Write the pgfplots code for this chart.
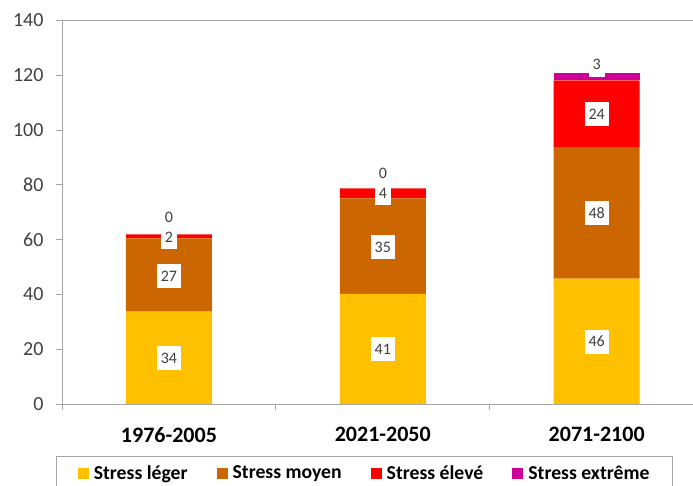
\documentclass[border=0pt]{standalone}
\usepackage{pgfplots}
\pgfplotsset{compat=1.18}
\usepackage{pgfplotstable}
\usepackage{fontspec}
\setmainfont{Carlito}
\definecolor{cLeger}{HTML}{FFC000}
\definecolor{cMoyen}{HTML}{CC6600}
\definecolor{cEleve}{HTML}{FF0000}
\definecolor{cExtreme}{HTML}{CC0099}
\definecolor{axgray}{HTML}{A6A6A6}
\definecolor{txtgray}{HTML}{404040}

\pgfplotstableread{
x leger moyen eleve extreme
0 33.7 26.7 1.5 0
1 40.2 34.8 3.7 0
2 45.7 48.0 24.4 2.7
}\datatable

\pgfplotstableread{
x y label
0 16.7 34
0 46.7 27
0 60.8 2
0 67.9 0
1 20.0 41
1 57.2 35
1 76.9 4
1 84.2 0
2 22.7 46
2 69.6 48
2 105.7 24
2 123.7 3
}\labeltable

\begin{document}
\begin{tikzpicture}[x=1pt,y=1pt]
\useasboundingbox (0,0) rectangle (693,486);
\begin{axis}[
  at={(62pt,82pt)}, anchor=south west,
  scale only axis, width=663pt, height=383.7pt,
  ybar stacked, bar width=86pt,
  xmin=-0.5, xmax=2.6, ymin=0, ymax=140,
  axis x line*=bottom, axis y line*=left,
  axis line style={draw=axgray, line width=0.8pt},
  tick align=outside,
  major tick length=6pt,
  every tick/.style={draw=axgray, line width=0.8pt},
  ytick={0,20,...,120},
  extra y ticks={140},
  extra y tick style={grid=major, grid style={draw=axgray, line width=0.8pt}},
  yticklabel style={font=\fontsize{20}{21}\selectfont, text=txtgray, xshift=-9pt},
  /pgf/number format/assume math mode=true,
  xtick={-0.5,0.5,1.5},
  xticklabels={},
  extra x ticks={0,1,2},
  extra x tick labels={1976-2005,2021-2050,2071-2100},
  extra x tick style={major tick length=0pt,
     xticklabel style={font=\fontsize{22}{24}\selectfont\bfseries, text=black, yshift=-20pt}},
  legend image code/.code={\fill[#1] (0pt,-5.5pt) rectangle (11pt,5.5pt);},
  legend columns=4,
  legend style={at={(0.4565,-0.1355)}, anchor=north,
     draw=axgray, line width=0.8pt,
     font=\fontsize{19.7}{22}\selectfont\bfseries,
     inner xsep=21pt, inner ysep=7pt,
     /tikz/every odd column/.append style={column sep=3pt},
     /tikz/every even column/.append style={column sep=27pt}},
  legend cell align=left,
]
\addplot[fill=cLeger, draw=none] table[x=x, y=leger] {\datatable};
\addplot[fill=cMoyen, draw=none] table[x=x, y=moyen] {\datatable};
\addplot[fill=cEleve, draw=none] table[x=x, y=eleve] {\datatable};
\addplot[fill=cExtreme, draw=none] table[x=x, y=extreme] {\datatable};
\legend{Stress léger, Stress moyen, Stress élevé, Stress extrême}
\end{axis}
\begin{axis}[
  at={(62pt,82pt)}, anchor=south west,
  scale only axis, width=663pt, height=383.7pt,
  xmin=-0.5, xmax=2.6, ymin=0, ymax=140,
  hide axis,
]
\addplot[draw=none, mark=none, nodes near coords, point meta=explicit symbolic,
  nodes near coords align={center},
  every node near coord/.append style={anchor=center, fill=white, text=txtgray,
     font=\fontsize{16}{16}\selectfont, text height=10pt, text depth=0pt,
     inner xsep=4pt, inner ysep=7pt}]
  table[x=x, y=y, meta=label] {\labeltable};
\end{axis}
\end{tikzpicture}
\end{document}
